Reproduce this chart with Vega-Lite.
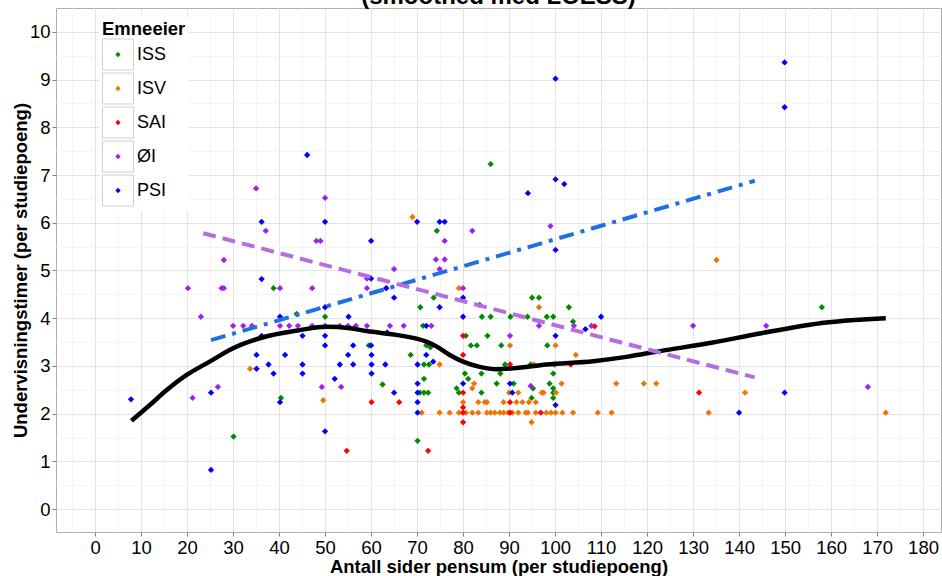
{
"$schema": "https://vega.github.io/schema/vega-lite/v6.json",
"width": 885, "height": 524,
"autosize": {"type": "none"},
"padding": {"left": 56, "top": 8, "right": 1, "bottom": 44},
"background": "white",
"title": {"text": "(smoothed med LOESS)", "fontSize": 24, "font": "Liberation Sans", "fontWeight": "bold", "color": "black", "anchor": "middle", "frame": "group", "baseline": "bottom", "offset": 0, "dy": 25},
"config": {"view": {"stroke": "#b0b0b0", "strokeWidth": 1}, "font": "Liberation Sans"},
"datasets": {
"pts": [
{"sider":86.0,"timer":7.23,"emneeier":"ISS"},{"sider":74.3,"timer":5.83,"emneeier":"ISS"},{"sider":73.6,"timer":4.43,"emneeier":"ISS"},{"sider":95.0,"timer":4.43,"emneeier":"ISS"},{"sider":96.5,"timer":4.43,"emneeier":"ISS"},{"sider":70.7,"timer":4.23,"emneeier":"ISS"},{"sider":83.6,"timer":4.28,"emneeier":"ISS"},{"sider":103.0,"timer":4.23,"emneeier":"ISS"},{"sider":158.0,"timer":4.23,"emneeier":"ISS"},{"sider":50.0,"timer":4.03,"emneeier":"ISS"},{"sider":84.1,"timer":4.03,"emneeier":"ISS"},{"sider":86.0,"timer":4.03,"emneeier":"ISS"},{"sider":90.3,"timer":4.03,"emneeier":"ISS"},{"sider":94.0,"timer":4.03,"emneeier":"ISS"},{"sider":98.2,"timer":4.03,"emneeier":"ISS"},{"sider":99.6,"timer":4.03,"emneeier":"ISS"},{"sider":103.9,"timer":3.93,"emneeier":"ISS"},{"sider":71.3,"timer":3.84,"emneeier":"ISS"},{"sider":80.6,"timer":3.63,"emneeier":"ISS"},{"sider":85.3,"timer":3.63,"emneeier":"ISS"},{"sider":59.5,"timer":3.43,"emneeier":"ISS"},{"sider":72.0,"timer":3.43,"emneeier":"ISS"},{"sider":72.9,"timer":3.39,"emneeier":"ISS"},{"sider":81.7,"timer":3.43,"emneeier":"ISS"},{"sider":83.0,"timer":3.43,"emneeier":"ISS"},{"sider":88.3,"timer":3.43,"emneeier":"ISS"},{"sider":98.3,"timer":3.43,"emneeier":"ISS"},{"sider":68.6,"timer":3.23,"emneeier":"ISS"},{"sider":71.5,"timer":3.03,"emneeier":"ISS"},{"sider":72.6,"timer":3.03,"emneeier":"ISS"},{"sider":89.1,"timer":3.03,"emneeier":"ISS"},{"sider":94.7,"timer":3.03,"emneeier":"ISS"},{"sider":99.9,"timer":3.03,"emneeier":"ISS"},{"sider":80.4,"timer":2.84,"emneeier":"ISS"},{"sider":84.0,"timer":2.84,"emneeier":"ISS"},{"sider":88.1,"timer":2.84,"emneeier":"ISS"},{"sider":99.6,"timer":2.84,"emneeier":"ISS"},{"sider":71.5,"timer":2.73,"emneeier":"ISS"},{"sider":81.1,"timer":2.73,"emneeier":"ISS"},{"sider":87.3,"timer":2.63,"emneeier":"ISS"},{"sider":91.0,"timer":2.63,"emneeier":"ISS"},{"sider":98.8,"timer":2.63,"emneeier":"ISS"},{"sider":95.2,"timer":2.53,"emneeier":"ISS"},{"sider":62.5,"timer":2.61,"emneeier":"ISS"},{"sider":78.6,"timer":2.53,"emneeier":"ISS"},{"sider":99.6,"timer":2.53,"emneeier":"ISS"},{"sider":70.6,"timer":2.44,"emneeier":"ISS"},{"sider":71.5,"timer":2.44,"emneeier":"ISS"},{"sider":72.4,"timer":2.44,"emneeier":"ISS"},{"sider":79.1,"timer":2.44,"emneeier":"ISS"},{"sider":84.0,"timer":2.44,"emneeier":"ISS"},{"sider":99.6,"timer":2.44,"emneeier":"ISS"},{"sider":94.9,"timer":2.33,"emneeier":"ISS"},{"sider":99.6,"timer":2.33,"emneeier":"ISS"},{"sider":70.1,"timer":1.43,"emneeier":"ISS"},{"sider":38.8,"timer":4.63,"emneeier":"ISS"},{"sider":43.8,"timer":4.09,"emneeier":"ISS"},{"sider":40.4,"timer":2.33,"emneeier":"ISS"},{"sider":30.1,"timer":1.52,"emneeier":"ISS"},
{"sider":69.0,"timer":6.12,"emneeier":"ISV"},{"sider":135.1,"timer":5.22,"emneeier":"ISV"},{"sider":79.1,"timer":4.63,"emneeier":"ISV"},{"sider":96.5,"timer":4.23,"emneeier":"ISV"},{"sider":104.5,"timer":3.23,"emneeier":"ISV"},{"sider":90.2,"timer":3.43,"emneeier":"ISV"},{"sider":100.1,"timer":3.43,"emneeier":"ISV"},{"sider":74.9,"timer":3.03,"emneeier":"ISV"},{"sider":95.4,"timer":3.03,"emneeier":"ISV"},{"sider":82.4,"timer":2.63,"emneeier":"ISV"},{"sider":101.4,"timer":2.63,"emneeier":"ISV"},{"sider":113.3,"timer":2.63,"emneeier":"ISV"},{"sider":119.3,"timer":2.63,"emneeier":"ISV"},{"sider":122.0,"timer":2.63,"emneeier":"ISV"},{"sider":82.0,"timer":2.53,"emneeier":"ISV"},{"sider":90.0,"timer":2.44,"emneeier":"ISV"},{"sider":92.0,"timer":2.44,"emneeier":"ISV"},{"sider":97.1,"timer":2.44,"emneeier":"ISV"},{"sider":97.5,"timer":2.44,"emneeier":"ISV"},{"sider":100.2,"timer":2.44,"emneeier":"ISV"},{"sider":141.3,"timer":2.44,"emneeier":"ISV"},{"sider":80.0,"timer":2.24,"emneeier":"ISV"},{"sider":83.3,"timer":2.24,"emneeier":"ISV"},{"sider":84.7,"timer":2.24,"emneeier":"ISV"},{"sider":85.2,"timer":2.24,"emneeier":"ISV"},{"sider":88.8,"timer":2.24,"emneeier":"ISV"},{"sider":91.6,"timer":2.24,"emneeier":"ISV"},{"sider":92.9,"timer":2.24,"emneeier":"ISV"},{"sider":94.3,"timer":2.24,"emneeier":"ISV"},{"sider":95.8,"timer":2.24,"emneeier":"ISV"},
{"sider":71.0,"timer":2.02,"emneeier":"ISV"},{"sider":74.9,"timer":2.02,"emneeier":"ISV"},{"sider":77.1,"timer":2.02,"emneeier":"ISV"},{"sider":79.1,"timer":2.02,"emneeier":"ISV"},{"sider":80.6,"timer":2.02,"emneeier":"ISV"},{"sider":82.0,"timer":2.02,"emneeier":"ISV"},{"sider":83.3,"timer":2.02,"emneeier":"ISV"},{"sider":85.2,"timer":2.02,"emneeier":"ISV"},{"sider":86.0,"timer":2.02,"emneeier":"ISV"},{"sider":86.9,"timer":2.02,"emneeier":"ISV"},{"sider":88.0,"timer":2.02,"emneeier":"ISV"},{"sider":88.8,"timer":2.02,"emneeier":"ISV"},{"sider":89.8,"timer":2.02,"emneeier":"ISV"},{"sider":90.7,"timer":2.02,"emneeier":"ISV"},{"sider":92.0,"timer":2.02,"emneeier":"ISV"},{"sider":93.6,"timer":2.02,"emneeier":"ISV"},{"sider":94.1,"timer":2.02,"emneeier":"ISV"},{"sider":95.8,"timer":2.02,"emneeier":"ISV"},{"sider":98.1,"timer":2.02,"emneeier":"ISV"},{"sider":99.1,"timer":2.02,"emneeier":"ISV"},{"sider":100.1,"timer":2.02,"emneeier":"ISV"},{"sider":101.6,"timer":2.02,"emneeier":"ISV"},{"sider":103.9,"timer":2.02,"emneeier":"ISV"},{"sider":109.3,"timer":2.02,"emneeier":"ISV"},{"sider":112.3,"timer":2.02,"emneeier":"ISV"},{"sider":133.4,"timer":2.02,"emneeier":"ISV"},{"sider":171.9,"timer":2.02,"emneeier":"ISV"},{"sider":94.9,"timer":1.82,"emneeier":"ISV"},{"sider":33.7,"timer":2.94,"emneeier":"ISV"},{"sider":49.6,"timer":2.28,"emneeier":"ISV"},
{"sider":80.0,"timer":3.63,"emneeier":"SAI"},{"sider":108.6,"timer":3.83,"emneeier":"SAI"},{"sider":80.0,"timer":3.23,"emneeier":"SAI"},{"sider":103.4,"timer":3.03,"emneeier":"SAI"},{"sider":90.2,"timer":3.03,"emneeier":"SAI"},{"sider":131.3,"timer":2.44,"emneeier":"SAI"},{"sider":80.0,"timer":2.44,"emneeier":"SAI"},{"sider":66.1,"timer":2.24,"emneeier":"SAI"},{"sider":90.2,"timer":2.24,"emneeier":"SAI"},{"sider":60.1,"timer":2.24,"emneeier":"SAI"},{"sider":80.0,"timer":2.13,"emneeier":"SAI"},{"sider":80.0,"timer":2.02,"emneeier":"SAI"},{"sider":90.2,"timer":2.02,"emneeier":"SAI"},{"sider":96.9,"timer":2.02,"emneeier":"SAI"},{"sider":80.0,"timer":1.82,"emneeier":"SAI"},{"sider":72.4,"timer":1.22,"emneeier":"SAI"},{"sider":54.7,"timer":1.22,"emneeier":"SAI"},
{"sider":35.0,"timer":6.72,"emneeier":"ØI"},{"sider":50.0,"timer":6.52,"emneeier":"ØI"},{"sider":37.1,"timer":5.83,"emneeier":"ØI"},{"sider":82.0,"timer":5.83,"emneeier":"ØI"},{"sider":99.0,"timer":5.93,"emneeier":"ØI"},{"sider":48.1,"timer":5.62,"emneeier":"ØI"},{"sider":49.0,"timer":5.62,"emneeier":"ØI"},{"sider":76.0,"timer":5.62,"emneeier":"ØI"},{"sider":28.0,"timer":5.22,"emneeier":"ØI"},{"sider":74.1,"timer":5.23,"emneeier":"ØI"},{"sider":76.0,"timer":5.23,"emneeier":"ØI"},{"sider":65.0,"timer":5.03,"emneeier":"ØI"},{"sider":74.9,"timer":5.03,"emneeier":"ØI"},{"sider":59.1,"timer":4.83,"emneeier":"ØI"},{"sider":20.2,"timer":4.63,"emneeier":"ØI"},{"sider":27.5,"timer":4.63,"emneeier":"ØI"},{"sider":28.0,"timer":4.63,"emneeier":"ØI"},{"sider":40.2,"timer":4.63,"emneeier":"ØI"},{"sider":47.2,"timer":4.63,"emneeier":"ØI"},{"sider":59.1,"timer":4.63,"emneeier":"ØI"},{"sider":63.3,"timer":4.63,"emneeier":"ØI"},{"sider":80.0,"timer":4.63,"emneeier":"ØI"},{"sider":23.0,"timer":4.03,"emneeier":"ØI"},
{"sider":30.0,"timer":3.84,"emneeier":"ØI"},{"sider":32.2,"timer":3.84,"emneeier":"ØI"},{"sider":34.1,"timer":3.84,"emneeier":"ØI"},{"sider":40.2,"timer":3.84,"emneeier":"ØI"},{"sider":42.2,"timer":3.84,"emneeier":"ØI"},{"sider":44.1,"timer":3.84,"emneeier":"ØI"},{"sider":47.2,"timer":3.84,"emneeier":"ØI"},{"sider":50.0,"timer":3.84,"emneeier":"ØI"},{"sider":53.2,"timer":3.84,"emneeier":"ØI"},{"sider":55.0,"timer":3.84,"emneeier":"ØI"},{"sider":56.7,"timer":3.84,"emneeier":"ØI"},{"sider":59.1,"timer":3.84,"emneeier":"ØI"},{"sider":64.1,"timer":3.84,"emneeier":"ØI"},{"sider":67.1,"timer":3.84,"emneeier":"ØI"},{"sider":73.1,"timer":3.84,"emneeier":"ØI"},{"sider":96.5,"timer":3.84,"emneeier":"ØI"},{"sider":104.1,"timer":3.84,"emneeier":"ØI"},{"sider":107.9,"timer":3.84,"emneeier":"ØI"},{"sider":130.0,"timer":3.84,"emneeier":"ØI"},{"sider":145.9,"timer":3.84,"emneeier":"ØI"},
{"sider":90.2,"timer":3.63,"emneeier":"ØI"},{"sider":94.7,"timer":2.58,"emneeier":"ØI"},{"sider":26.7,"timer":2.56,"emneeier":"ØI"},{"sider":49.3,"timer":2.56,"emneeier":"ØI"},{"sider":53.5,"timer":2.56,"emneeier":"ØI"},{"sider":21.2,"timer":2.33,"emneeier":"ØI"},{"sider":168.0,"timer":2.56,"emneeier":"ØI"},
{"sider":149.9,"timer":9.36,"emneeier":"PSI"},{"sider":149.9,"timer":8.42,"emneeier":"PSI"},{"sider":100.1,"timer":9.02,"emneeier":"PSI"},{"sider":46.1,"timer":7.42,"emneeier":"PSI"},{"sider":100.1,"timer":6.91,"emneeier":"PSI"},{"sider":102.0,"timer":6.81,"emneeier":"PSI"},{"sider":94.1,"timer":6.62,"emneeier":"PSI"},{"sider":36.2,"timer":6.02,"emneeier":"PSI"},{"sider":50.0,"timer":6.02,"emneeier":"PSI"},{"sider":70.0,"timer":6.02,"emneeier":"PSI"},{"sider":74.9,"timer":6.02,"emneeier":"PSI"},{"sider":76.0,"timer":6.02,"emneeier":"PSI"},{"sider":60.0,"timer":5.62,"emneeier":"PSI"},{"sider":100.1,"timer":5.43,"emneeier":"PSI"},{"sider":36.2,"timer":4.82,"emneeier":"PSI"},{"sider":60.0,"timer":4.83,"emneeier":"PSI"},{"sider":63.3,"timer":4.63,"emneeier":"PSI"},{"sider":65.0,"timer":4.43,"emneeier":"PSI"},{"sider":80.0,"timer":4.43,"emneeier":"PSI"},{"sider":50.0,"timer":4.23,"emneeier":"PSI"},{"sider":74.9,"timer":4.23,"emneeier":"PSI"},{"sider":110.0,"timer":4.03,"emneeier":"PSI"},{"sider":40.2,"timer":4.03,"emneeier":"PSI"},{"sider":55.1,"timer":4.03,"emneeier":"PSI"},{"sider":80.0,"timer":4.03,"emneeier":"PSI"},{"sider":106.6,"timer":3.77,"emneeier":"PSI"},{"sider":72.0,"timer":3.84,"emneeier":"PSI"},{"sider":36.2,"timer":3.63,"emneeier":"PSI"},{"sider":45.1,"timer":3.63,"emneeier":"PSI"},{"sider":50.0,"timer":3.63,"emneeier":"PSI"},{"sider":63.5,"timer":3.70,"emneeier":"PSI"},{"sider":100.1,"timer":3.63,"emneeier":"PSI"},{"sider":50.0,"timer":3.43,"emneeier":"PSI"},{"sider":56.1,"timer":3.43,"emneeier":"PSI"},{"sider":60.0,"timer":3.43,"emneeier":"PSI"},{"sider":35.1,"timer":3.23,"emneeier":"PSI"},{"sider":41.3,"timer":3.23,"emneeier":"PSI"},{"sider":55.0,"timer":3.23,"emneeier":"PSI"},{"sider":60.1,"timer":3.23,"emneeier":"PSI"},{"sider":72.0,"timer":3.23,"emneeier":"PSI"},{"sider":73.5,"timer":3.09,"emneeier":"PSI"},{"sider":37.7,"timer":3.03,"emneeier":"PSI"},{"sider":45.1,"timer":3.03,"emneeier":"PSI"},{"sider":53.2,"timer":3.03,"emneeier":"PSI"},{"sider":56.1,"timer":3.03,"emneeier":"PSI"},{"sider":60.1,"timer":3.03,"emneeier":"PSI"},{"sider":63.1,"timer":3.03,"emneeier":"PSI"},{"sider":70.1,"timer":3.03,"emneeier":"PSI"},{"sider":35.1,"timer":2.94,"emneeier":"PSI"},{"sider":38.8,"timer":2.84,"emneeier":"PSI"},{"sider":45.1,"timer":2.84,"emneeier":"PSI"},{"sider":60.1,"timer":2.84,"emneeier":"PSI"},{"sider":52.1,"timer":2.73,"emneeier":"PSI"},{"sider":70.1,"timer":2.63,"emneeier":"PSI"},{"sider":80.0,"timer":2.63,"emneeier":"PSI"},{"sider":90.2,"timer":2.63,"emneeier":"PSI"},{"sider":25.2,"timer":2.44,"emneeier":"PSI"},{"sider":65.0,"timer":2.44,"emneeier":"PSI"},{"sider":70.1,"timer":2.44,"emneeier":"PSI"},{"sider":90.7,"timer":2.44,"emneeier":"PSI"},{"sider":149.9,"timer":2.44,"emneeier":"PSI"},{"sider":40.2,"timer":2.24,"emneeier":"PSI"},{"sider":70.1,"timer":2.24,"emneeier":"PSI"},{"sider":100.1,"timer":2.18,"emneeier":"PSI"},{"sider":7.8,"timer":2.30,"emneeier":"PSI"},{"sider":70.1,"timer":2.02,"emneeier":"PSI"},{"sider":140.0,"timer":2.02,"emneeier":"PSI"},{"sider":50.0,"timer":1.63,"emneeier":"PSI"},{"sider":25.2,"timer":0.82,"emneeier":"PSI"}
],
"loess": [
{"sider":7.9,"timer":1.85},{"sider":11.9,"timer":2.18},{"sider":15.5,"timer":2.49},{"sider":19.9,"timer":2.81},{"sider":24.9,"timer":3.09},{"sider":30.0,"timer":3.37},{"sider":35.8,"timer":3.58},{"sider":44.5,"timer":3.75},{"sider":50.3,"timer":3.82},{"sider":55.4,"timer":3.79},{"sider":59.0,"timer":3.73},{"sider":66.2,"timer":3.64},{"sider":72.0,"timer":3.51},{"sider":74.2,"timer":3.41},{"sider":77.1,"timer":3.23},{"sider":80.0,"timer":3.09},{"sider":83.6,"timer":2.98},{"sider":87.3,"timer":2.93},{"sider":90.9,"timer":2.95},{"sider":98.1,"timer":3.03},{"sider":108.3,"timer":3.10},{"sider":115.5,"timer":3.19},{"sider":122.8,"timer":3.31},{"sider":134.3,"timer":3.49},{"sider":144.5,"timer":3.68},{"sider":159.0,"timer":3.91},{"sider":171.9,"timer":4.00}
],
"psi_fit": [{"sider":25.2,"timer":3.54},{"sider":143.4,"timer":6.88}],
"oi_fit": [{"sider":23.5,"timer":5.78},{"sider":143.4,"timer":2.76}]
},
"encoding": {
"x": {"field": "sider", "type": "quantitative",
 "scale": {"domain": [-8.5, 183.9], "nice": false, "zero": false},
 "axis": {"values": [-5,0,5,10,15,20,25,30,35,40,45,50,55,60,65,70,75,80,85,90,95,100,105,110,115,120,125,130,135,140,145,150,155,160,165,170,175,180],
  "title": "Antall sider pensum (per studiepoeng)", "titleFontSize": 18.5, "titleFontWeight": "bold", "titleColor": "black", "titlePadding": 1,
  "labelFontSize": 18.5, "labelColor": "black", "labelPadding": 2, "labelFlush": false, "labelOverlap": false,
  "labelExpr": "datum.value % 10 === 0 ? format(datum.value, 'd') : ''",
  "tickSize": 4, "tickColor": "#808080", "tickOpacity": {"condition": {"test": "datum.value % 10 === 0", "value": 1}, "value": 0},
  "domain": false, "grid": true, "gridWidth": 1,
  "gridColor": {"condition": {"test": "datum.value % 10 === 0", "value": "#e3e3e3"}, "value": "#f4f4f4"}}},
"y": {"field": "timer", "type": "quantitative",
 "scale": {"domain": [-0.48, 10.5], "nice": false, "zero": false},
 "axis": {"values": [0,0.5,1,1.5,2,2.5,3,3.5,4,4.5,5,5.5,6,6.5,7,7.5,8,8.5,9,9.5,10],
  "title": "Undervisningstimer (per studiepoeng)", "titleFontSize": 18.5, "titleFontWeight": "bold", "titleColor": "black", "titlePadding": -1,
  "labelFontSize": 18.5, "labelColor": "black", "labelPadding": 2, "labelOverlap": false,
  "labelExpr": "datum.value % 1 === 0 ? format(datum.value, 'd') : ''",
  "tickSize": 4, "tickColor": "#808080", "tickOpacity": {"condition": {"test": "datum.value % 1 === 0", "value": 1}, "value": 0},
  "domain": false, "grid": true, "gridWidth": 1,
  "gridColor": {"condition": {"test": "datum.value % 1 === 0", "value": "#e3e3e3"}, "value": "#f4f4f4"}}}
},
"layer": [
{"data": {"name": "pts"},
 "mark": {"type": "point", "shape": "diamond", "filled": true, "size": 40, "opacity": 1},
 "encoding": {"color": {"field": "emneeier", "type": "nominal",
  "scale": {"domain": ["ISS","ISV","SAI","ØI","PSI"], "range": ["#008B00","#EE7600","#FF0000","#A020F0","#0000FF"]},
  "legend": {"title": "Emneeier", "orient": "none", "legendX": 43, "legendY": 9, "padding": 3, "fillColor": "white",
   "titleFontSize": 18.5, "titleFontWeight": "bold", "titleColor": "black", "titlePadding": 0,
   "labelFontSize": 18, "labelColor": "black", "labelOffset": 3,
   "symbolType": "M-1,-1L-1,-1M1,1L1,1M0,-0.17L0.17,0L0,0.17L-0.17,0Z", "symbolSize": 961, "symbolStrokeWidth": 1, "symbolStrokeColor": "transparent", "symbolOpacity": 1, "rowPadding": -8}}}},
{"data": {"name": "pts"},
 "mark": {"type": "point", "shape": "square", "filled": false, "opacity": 0},
 "encoding": {"stroke": {"field": "emneeier", "type": "nominal", "sort": ["ISS","ISV","SAI","ØI","PSI"],
  "scale": {"range": ["#cfcfcf","#cfcfcf","#cfcfcf","#cfcfcf","#cfcfcf"]},
  "legend": {"title": "Emneeier", "orient": "none", "legendX": 43, "legendY": 9, "padding": 3,
   "titleFontSize": 18.5, "titleFontWeight": "bold", "titleColor": "transparent", "titlePadding": 0,
   "labelFontSize": 18, "labelColor": "transparent", "labelOffset": 3,
   "symbolType": "square", "symbolSize": 961, "symbolStrokeWidth": 1, "symbolOpacity": 1, "symbolFillColor": "transparent", "symbolStrokeColor": "#cfcfcf", "rowPadding": -8}}}},
{"data": {"name": "loess"}, "mark": {"type": "line", "color": "black", "strokeWidth": 4.5, "interpolate": "monotone"}, "encoding": {}},
{"data": {"name": "psi_fit"}, "mark": {"type": "line", "color": "#1F6FE5", "strokeWidth": 4, "strokeDash": [15,7,4,7]}, "encoding": {}},
{"data": {"name": "oi_fit"}, "mark": {"type": "line", "color": "#B56EE0", "strokeWidth": 4, "strokeDash": [13,7]}, "encoding": {}}
]
}
